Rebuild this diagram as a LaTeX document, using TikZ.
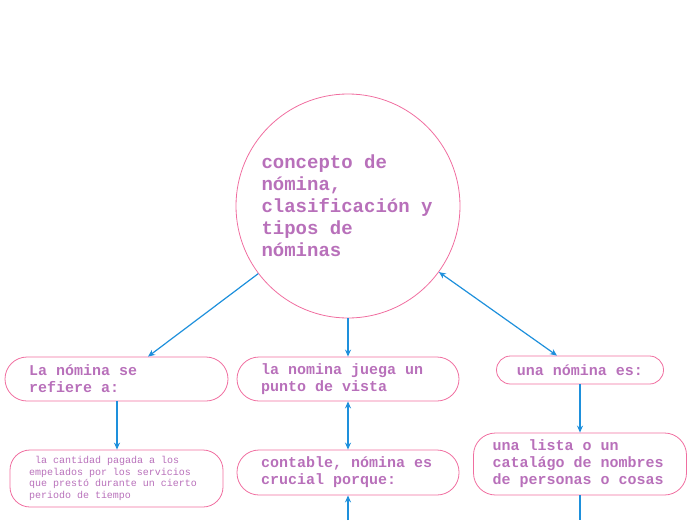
\documentclass[tikz,border=0pt]{standalone}
\usepackage{fontspec}
\newfontfamily\monofont{Liberation Mono}
\newcommand\circfont{\monofont\bfseries\fontsize{19}{22}\selectfont}
\newcommand\boxfont{\monofont\bfseries\fontsize{15}{17}\selectfont}
\newcommand\smallboxfont{\monofont\fontsize{10}{11.5}\selectfont}
\newcommand\wideline[2]{\makebox[#1][l]{#2}}
\usetikzlibrary{arrows.meta,calc}
\definecolor{txtpurple}{RGB}{184,112,186}
\definecolor{borderpink}{RGB}{240,110,160}
\definecolor{linkblue}{RGB}{30,144,220}
\tikzset{
  topic/.style={draw=borderpink, line width=0.8pt, rounded corners=22pt, text=txtpurple,
    font=\boxfont, align=left, inner ysep=0pt},
  smalltopic/.style={draw=borderpink, line width=0.8pt, rounded corners=20pt, text=txtpurple,
    font=\smallboxfont, align=left, inner ysep=0pt},
  link/.style={draw=linkblue, line width=1.2pt, -{Stealth[length=7pt,width=6pt]}},
  biglink/.style={draw=linkblue, line width=1.2pt, {Stealth[length=7pt,width=6pt]}-{Stealth[length=7pt,width=6pt]}},
}
\begin{document}
\begin{tikzpicture}[x=1pt,y=-1pt]
\useasboundingbox (0,0) rectangle (696,520);
\node[circle, draw=borderpink, line width=0.8pt, minimum size=224pt, inner sep=0pt, text=txtpurple,
  font=\circfont, align=left] (c) at (348,206)
  {\wideline{173pt}{concepto de}\\n\'omina,\\clasificaci\'on y\\tipos de\\n\'ominas};
\node[topic, minimum height=44pt, inner xsep=24pt] (b1) at (116.5,379)
  {\wideline{175pt}{La n\'omina se}\\refiere a:};
\node[topic, minimum height=44pt, inner xsep=24pt] (b2) at (348,379)
  {\wideline{174pt}{la nomina juega un}\\punto de vista};
\node[topic, minimum width=167pt, minimum height=28pt, rounded corners=14pt, align=center, inner xsep=4pt] (b3) at (580,370)
  {una n\'omina es:};
\node[smalltopic, minimum height=57pt, inner xsep=19pt] (b4) at (116.5,478.5)
  {\wideline{175pt}{\hspace*{6pt}la cantidad pagada a los}\\empelados por los servicios\\que prest\'o durante un cierto\\periodo de tiempo};
\node[topic, minimum height=45pt, inner xsep=24pt] (b5) at (348,472.5)
  {\wideline{174pt}{contable, n\'omina es}\\crucial porque:};
\node[topic, minimum height=62pt, inner xsep=19pt] (b6) at (580,464)
  {\wideline{175pt}{una lista o un}\\catal\'ago de nombres\\de personas o cosas};
\coordinate (belowb5) at (348,520);
\coordinate (belowb6) at (580,520);
\draw[link] (c.217) -- ($(b1.north)+(31.5,0)$);
\draw[link] (c.south) -- (b2.north);
\draw[biglink] (c.324.6) -- ($(b3.north)+(-23,0)$);
\draw[link] ($(b1.south)+(0.5,0)$) -- ($(b4.north)+(0.5,0)$);
\draw[biglink] (b5.north) -- (b2.south);
\draw[link] (belowb5) -- (b5.south);
\draw[link] (b3.south) -- (b6.north);
\draw[draw=linkblue, line width=1.2pt] (b6.south) -- (belowb6);
\end{tikzpicture}
\end{document}
